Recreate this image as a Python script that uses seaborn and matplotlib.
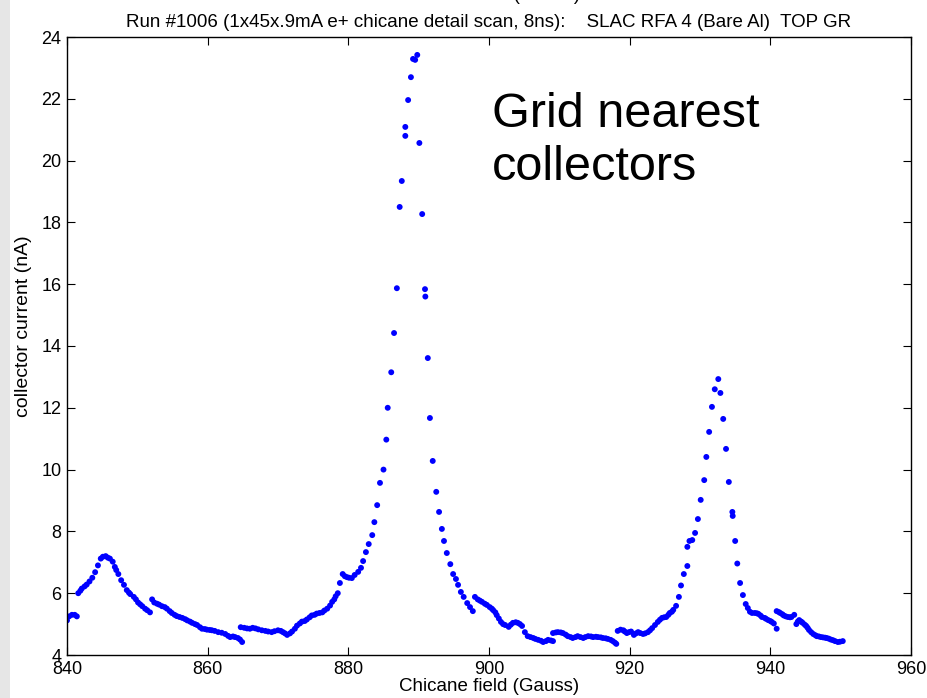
import matplotlib
matplotlib.use("Agg")
import matplotlib.pyplot as plt
import seaborn as sns
import pandas as pd
from matplotlib.patches import Rectangle

# ---- data ----
field = [
    840.0, 840.3, 840.7, 841.1, 841.4,
    841.6, 841.9, 842.1, 842.5, 842.8, 843.2, 843.6, 844.0, 844.4, 844.8, 845.1, 845.5, 845.8, 846.1,
    846.5, 846.8, 847.0, 847.3, 847.7, 848.1, 848.5, 848.8, 849.0, 849.5, 849.8, 850.1, 850.4, 850.7, 851.1, 851.4, 851.8,
    852.1, 852.4, 852.8, 853.1, 853.5, 853.9, 854.2, 854.6, 854.9, 855.3, 855.6, 856.0, 856.4, 856.8, 857.1, 857.5,
    857.8, 858.2, 858.5, 858.9, 859.2, 859.6, 859.9,
    860.3, 860.6, 861.0, 861.5, 862.0, 862.5, 862.9, 863.2, 863.6, 863.9, 864.3, 864.6, 864.9,
    864.7, 865.2, 865.6, 866.0, 866.4, 866.8, 867.2, 867.7, 868.2, 868.6, 869.1, 869.5, 870.0, 870.4, 870.7, 871.0, 871.3,
    871.7, 872.0, 872.4, 872.7, 873.1, 873.4, 873.8,
    874.1, 874.5, 874.8, 875.2, 875.5, 875.9, 876.3, 876.6, 877.0, 877.4, 877.7, 878.0, 878.2, 878.5, 878.8, 879.2, 879.5, 879.8, 880.1, 880.5,
    880.9, 881.4, 881.8, 882.1, 882.5, 882.9, 883.4, 883.7, 884.1, 884.5, 885.0, 885.4, 885.6,
    886.1, 886.5, 886.9, 887.3, 887.6, 888.1, 888.1, 888.5, 888.9, 889.2, 889.5, 889.8, 890.1,
    890.5, 890.9, 890.95, 891.3, 891.6, 892.0, 892.5, 892.9, 893.3, 893.6, 894.0, 894.5, 894.9,
    895.3, 895.6, 896.0, 896.4, 896.9, 897.3, 897.7,
    898.0, 898.4, 898.7, 899.0, 899.4, 899.7, 900.1, 900.4, 900.6, 900.9, 901.1, 901.4, 901.7, 902.0, 902.3, 902.8,
    903.1, 903.4, 903.8, 904.1, 904.4, 904.7, 905.1, 905.5, 905.9, 906.3, 906.6, 907.0, 907.4, 907.7, 908.1, 908.4, 908.8, 909.1,
    909.1, 909.5, 909.8, 910.2, 910.5, 910.9, 911.2, 911.6, 911.9, 912.3, 912.6, 913.0, 913.4, 913.7, 914.1, 914.5, 914.8,
    915.2, 915.5, 915.9, 916.2, 916.6, 916.9, 917.3, 917.6, 917.9, 918.1,
    918.3, 918.7, 919.1, 919.3, 919.6, 919.9, 920.2, 920.6, 920.9, 921.2, 921.5, 921.9, 922.2, 922.6, 922.9, 923.2, 923.6,
    924.0, 924.3, 924.6, 924.9, 925.2, 925.5, 925.7, 926.0, 926.2, 926.6, 927.0, 927.3, 927.7, 928.2, 928.2, 928.5, 928.9, 929.3, 929.7,
    930.1, 930.6, 930.9, 931.3, 931.7, 932.1, 932.6, 932.9, 933.3, 933.7, 934.1, 934.6, 934.65,
    935.0, 935.3, 935.7, 936.1, 936.5, 936.8, 937.1, 937.4, 937.8, 938.1, 938.3, 938.6, 938.8, 939.2, 939.4, 939.7,
    940.0, 940.2, 940.5, 940.9,
    940.9, 941.2, 941.4, 941.7, 941.9, 942.2, 942.5, 942.8, 943.0, 943.4, 943.7, 943.9, 944.1, 944.4, 944.6, 944.9,
    945.1, 945.3, 945.5, 945.8, 946.1, 946.4, 946.6, 946.9,
    947.2, 947.5, 947.8, 948.0, 948.3, 948.6, 948.9, 949.2, 949.6, 949.9, 950.3,
]
current = [
    5.12, 5.25, 5.30, 5.30, 5.25,
    6.00, 6.08, 6.15, 6.22, 6.28, 6.38, 6.50, 6.68, 6.90, 7.12, 7.18, 7.20, 7.15, 7.12,
    7.02, 6.85, 6.75, 6.62, 6.42, 6.27, 6.10, 6.02, 5.97, 5.88, 5.80, 5.70, 5.64, 5.58, 5.50, 5.45, 5.38,
    5.80, 5.70, 5.66, 5.63, 5.58, 5.55, 5.50, 5.42, 5.36, 5.30, 5.26, 5.23, 5.20, 5.16, 5.12, 5.08,
    5.04, 5.00, 4.97, 4.90, 4.85, 4.84, 4.82,
    4.81, 4.80, 4.78, 4.74, 4.72, 4.68, 4.62, 4.58, 4.60, 4.58, 4.55, 4.50, 4.42,
    4.90, 4.88, 4.86, 4.85, 4.88, 4.86, 4.83, 4.80, 4.78, 4.76, 4.74, 4.77, 4.80, 4.78, 4.74, 4.70, 4.65,
    4.70, 4.76, 4.85, 4.95, 5.02, 5.08, 5.10,
    5.15, 5.22, 5.28, 5.30, 5.34, 5.36, 5.38, 5.44, 5.50, 5.60, 5.72, 5.80, 5.90, 6.00, 6.33, 6.62, 6.55, 6.52, 6.50, 6.49,
    6.59, 6.69, 6.82, 7.04, 7.33, 7.59, 7.88, 8.30, 8.85, 9.57, 10.00, 10.97, 12.00,
    13.15, 14.42, 15.87, 18.50, 19.34, 20.80, 21.09, 21.96, 22.70, 23.29, 23.26, 23.42, 20.57,
    18.27, 15.84, 15.60, 13.61, 11.67, 10.28, 9.28, 8.63, 8.08, 7.69, 7.30, 6.94, 6.62,
    6.46, 6.27, 6.04, 5.88, 5.68, 5.55, 5.42,
    5.88, 5.80, 5.76, 5.72, 5.66, 5.62, 5.55, 5.50, 5.45, 5.38, 5.29, 5.18, 5.07, 5.00, 4.97, 4.91,
    4.98, 5.04, 5.06, 5.04, 5.00, 4.94, 4.74, 4.61, 4.58, 4.55, 4.52, 4.49, 4.46, 4.42, 4.45, 4.49, 4.47, 4.45,
    4.71, 4.73, 4.74, 4.73, 4.71, 4.66, 4.61, 4.58, 4.55, 4.58, 4.61, 4.58, 4.55, 4.58, 4.61, 4.60, 4.58,
    4.59, 4.58, 4.57, 4.55, 4.54, 4.52, 4.49, 4.45, 4.40, 4.36,
    4.78, 4.82, 4.80, 4.76, 4.71, 4.74, 4.76, 4.65, 4.70, 4.74, 4.71, 4.68, 4.70, 4.74, 4.80, 4.87, 4.97,
    5.07, 5.14, 5.20, 5.22, 5.23, 5.30, 5.36, 5.40, 5.46, 5.59, 5.88, 6.25, 6.62, 6.88, 7.50, 7.69, 7.72, 7.95, 8.40,
    9.02, 9.66, 10.41, 11.22, 12.03, 12.60, 12.93, 12.48, 11.64, 10.67, 9.60, 8.63, 8.50,
    7.69, 6.96, 6.33, 5.94, 5.65, 5.52, 5.40, 5.36, 5.36, 5.35, 5.33, 5.28, 5.23, 5.20, 5.17, 5.13,
    5.10, 5.07, 5.02, 4.85,
    5.42, 5.39, 5.36, 5.32, 5.28, 5.25, 5.23, 5.22, 5.23, 5.30, 5.00, 5.08, 5.13, 5.08, 5.04, 4.98,
    4.94, 4.88, 4.81, 4.74, 4.68, 4.64, 4.61, 4.60,
    4.58, 4.57, 4.56, 4.55, 4.53, 4.50, 4.48, 4.45, 4.42, 4.43, 4.45,
]
x_ticks = [840, 860, 880, 900, 920, 940, 960]
y_ticks = [4, 6, 8, 10, 12, 14, 16, 18, 20, 22, 24]
title = "Run #1006 (1x45x.9mA e+ chicane detail scan, 8ns):    SLAC RFA 4 (Bare Al)  TOP GR"
x_label = "Chicane field (Gauss)"
y_label = "collector current (nA)"
annotation = "Grid nearest\ncollectors"

df = pd.DataFrame({"field": field, "current": current})

sns.set_theme(style="white")
plt.rcParams["font.family"] = ["Liberation Sans", "DejaVu Sans"]

fig = plt.figure(figsize=(9.27, 6.98), dpi=100)
fig.patches.append(Rectangle((0, 0), 10 / 927, 1, transform=fig.transFigure,
                             facecolor="#e6e6e6", edgecolor="none", zorder=0))
ax = fig.add_axes([67 / 927, 1 - 655 / 698, 844 / 927, 618 / 698])

sns.scatterplot(data=df, x="field", y="current", ax=ax, color="#0000ff",
                s=18, linewidth=0, edgecolor="none", legend=False)

ax.set_xlim(840, 960)
ax.set_ylim(4, 24)
ax.set_xticks(x_ticks)
ax.set_yticks(y_ticks)
ax.tick_params(direction="in", length=6, width=0.8, colors="black", labelsize=13,
               top=True, right=True, bottom=True, left=True, pad=4)
for s in ax.spines.values():
    s.set_color("black")
    s.set_linewidth(1.0)
    s.set_visible(True)
ax.set_xlabel(x_label, fontsize=13.5, labelpad=0, color="black")
ax.set_ylabel(y_label, fontsize=14, color="black")
ax.yaxis.set_label_coords(-0.042, 0.532)
ax.set_title(title, fontsize=13.5, pad=7, color="black")

# clipped overprinted label at the very top of the image
fig.text(490 / 927, 1.007, x_label, ha="center", va="center", fontsize=13.5, color="black")

ax.text(0.5036, 0.911, annotation, transform=ax.transAxes, ha="left", va="top",
        fontsize=35, color="black", linespacing=1.24)

fig.savefig("out.png", dpi=100, facecolor="white")
